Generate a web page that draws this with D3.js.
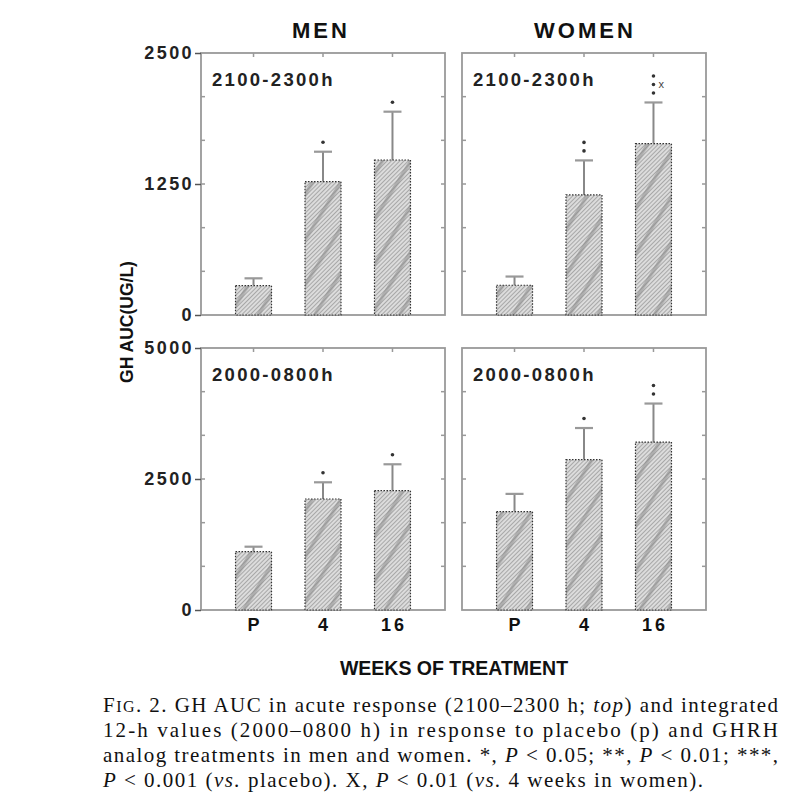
<!DOCTYPE html>
<html>
<head>
<meta charset="utf-8">
<script src="https://cdn.jsdelivr.net/npm/d3@7"></script>
<style>
  html, body { margin: 0; padding: 0; background: #fff; }
  svg { display: block; }
</style>
</head>
<body>
<svg id="chart" width="800" height="800"></svg>
<script>
// ---------------- data ----------------
const categories = ["P", "4", "16"];
const columnTitles = ["MEN", "WOMEN"];
const rowTitles = ["2100-2300h", "2000-0800h"];
const yTicksTop = [0, 1250, 2500];
const yTicksBottom = [0, 2500, 5000];

// acute response 2100-2300h
const menAcute = [280, 1272, 1479];
const menAcuteSem = [70, 286, 461];
const menAcuteSig = [0, 1, 1];
const menAcuteX = [false, false, false];

const womenAcute = [284, 1146, 1635];
const womenAcuteSem = [83, 329, 393];
const womenAcuteSig = [0, 2, 3];
const womenAcuteX = [false, false, true];

// integrated 2000-0800h
const menTotal = [1113, 2118, 2277];
const menTotalSem = [95, 319, 504];
const menTotalSig = [0, 1, 1];
const menTotalX = [false, false, false];

const womenTotal = [1877, 2868, 3205];
const womenTotalSem = [339, 605, 735];
const womenTotalSig = [0, 1, 2];
const womenTotalX = [false, false, false];

const yTitle = "GH AUC(UG/L)";
const xTitle = "WEEKS OF TREATMENT";

// ---------------- layout ----------------
const svg = d3.select("#chart");
const W = 244, H = 262;
const colX = [201, 462];
const rowY = [53, 348];

const defs = svg.append("defs");
const fine = defs.append("pattern").attr("id", "fine")
  .attr("patternUnits", "userSpaceOnUse").attr("width", 3).attr("height", 3)
  .attr("patternTransform", "rotate(45)");
fine.append("rect").attr("width", 3).attr("height", 3).attr("fill", "#dcdcdc");
fine.append("line").attr("x1", 0.5).attr("x2", 0.5).attr("y1", 0).attr("y2", 3)
  .attr("stroke", "#a8a8a8").attr("stroke-width", 1);
const band = defs.append("pattern").attr("id", "band")
  .attr("patternUnits", "userSpaceOnUse").attr("width", 24).attr("height", 10)
  .attr("patternTransform", "rotate(32)");
band.append("rect").attr("x", 0).attr("width", 3.5).attr("height", 10)
  .attr("fill", "#8a8a8a").attr("opacity", 0.55);

const panels = [
  {c: 0, r: 0, v: menAcute, e: menAcuteSem, s: menAcuteSig, x: menAcuteX, ticks: yTicksTop},
  {c: 1, r: 0, v: womenAcute, e: womenAcuteSem, s: womenAcuteSig, x: womenAcuteX, ticks: yTicksTop},
  {c: 0, r: 1, v: menTotal, e: menTotalSem, s: menTotalSig, x: menTotalX, ticks: yTicksBottom},
  {c: 1, r: 1, v: womenTotal, e: womenTotalSem, s: womenTotalSig, x: womenTotalX, ticks: yTicksBottom}
];

const frameColor = "#999";

panels.forEach(p => {
  const x0 = colX[p.c], y0 = rowY[p.r];
  const max = p.ticks[p.ticks.length - 1];
  const x = d3.scaleBand().domain(categories).range([x0, x0 + W])
    .paddingInner(0.482).paddingOuter(0.497);
  const y = d3.scaleLinear().domain([0, max]).range([y0 + H, y0]);
  const g = svg.append("g");

  // frame
  g.append("rect").attr("x", x0).attr("y", y0).attr("width", W).attr("height", H)
    .attr("fill", "none").attr("stroke", frameColor).attr("stroke-width", 1.8);

  // minor ticks (6 intervals) inward on left and right
  const minor = d3.range(1, 6).map(i => max * i / 6);
  g.selectAll(".ml").data(minor).join("line")
    .attr("x1", x0).attr("x2", x0 + 4).attr("y1", d => y(d)).attr("y2", d => y(d))
    .attr("stroke", frameColor).attr("stroke-width", 1.5);
  g.selectAll(".mr").data(minor).join("line")
    .attr("x1", x0 + W).attr("x2", x0 + W - 4).attr("y1", d => y(d)).attr("y2", d => y(d))
    .attr("stroke", frameColor).attr("stroke-width", 1.5);
  // top ticks at category centers
  g.selectAll(".tt").data(categories).join("line")
    .attr("x1", d => x(d) + x.bandwidth() / 2).attr("x2", d => x(d) + x.bandwidth() / 2)
    .attr("y1", y0).attr("y2", y0 + 4)
    .attr("stroke", frameColor).attr("stroke-width", 1.5);

  // left axis with labels (only left column)
  if (p.c === 0) {
    const ax = d3.axisLeft(y).tickValues(p.ticks).tickFormat(d3.format("d"))
      .tickSize(6).tickPadding(3);
    const a = g.append("g").attr("transform", `translate(${x0},0)`).call(ax);
    a.select(".domain").remove();
    a.selectAll("line").attr("stroke", "#555").attr("stroke-width", 1.5);
    a.selectAll("text").attr("font-family", "Arial, 'Liberation Sans', sans-serif")
      .attr("font-weight", "bold").attr("font-size", 18).attr("letter-spacing", 2.4)
      .attr("fill", "#222").attr("dx", 2);
  }

  // bottom category labels (bottom row)
  if (p.r === 1) {
    g.selectAll(".xl").data(categories).join("text")
      .attr("x", d => x(d) + x.bandwidth() / 2 + 1.5).attr("y", y0 + H + 21)
      .attr("text-anchor", "middle")
      .attr("font-family", "Arial, 'Liberation Sans', sans-serif")
      .attr("font-weight", "bold").attr("font-size", 18).attr("letter-spacing", 3)
      .attr("fill", "#111").text(d => d);
  }

  // error bars
  const data = categories.map((k, i) => ({k, v: p.v[i], e: p.e[i], s: p.s[i], xm: p.x[i]}));
  const cx = d => x(d.k) + x.bandwidth() / 2;
  g.selectAll(".ev").data(data).join("line")
    .attr("x1", cx).attr("x2", cx).attr("y1", d => y(d.v)).attr("y2", d => y(d.v + d.e))
    .attr("stroke", "#888").attr("stroke-width", 2);
  g.selectAll(".ec").data(data).join("line")
    .attr("x1", d => cx(d) - 9).attr("x2", d => cx(d) + 9)
    .attr("y1", d => y(d.v + d.e)).attr("y2", d => y(d.v + d.e))
    .attr("stroke", "#999").attr("stroke-width", 2.2);

  // bars
  g.selectAll(".b1").data(data).join("rect")
    .attr("x", d => x(d.k)).attr("width", x.bandwidth())
    .attr("y", d => y(d.v)).attr("height", d => y(0) - y(d.v))
    .attr("fill", "url(#fine)");
  g.selectAll(".b2").data(data).join("rect")
    .attr("x", d => x(d.k)).attr("width", x.bandwidth())
    .attr("y", d => y(d.v)).attr("height", d => y(0) - y(d.v))
    .attr("fill", "url(#band)")
    .attr("stroke", "#333").attr("stroke-width", 1.2).attr("stroke-dasharray", "1.5,1.5");

  // significance marks
  data.forEach(d => {
    const top = y(d.v + d.e);
    for (let j = 0; j < d.s; j++) {
      g.append("circle").attr("cx", cx(d)).attr("cy", top - 9.5 - j * 8.5)
        .attr("r", 1.8).attr("fill", "#333");
    }
    if (d.xm) {
      g.append("text").attr("x", cx(d) + 5).attr("y", top - 9.5 - 8.5 + 4)
        .attr("font-family", "Arial, sans-serif").attr("font-size", 11)
        .attr("fill", "#444").text("x");
    }
  });

  // panel label
  g.append("text").attr("x", x0 + 11).attr("y", y0 + 33)
    .attr("font-family", "Arial, 'Liberation Sans', sans-serif")
    .attr("font-weight", "bold").attr("font-size", 18.5).attr("letter-spacing", 2.3)
    .attr("fill", "#222").text(rowTitles[p.r]);
});

// column titles
svg.selectAll(".ct").data(columnTitles).join("text")
  .attr("x", (d, i) => colX[i] + W / 2 - (i === 0 ? 2 : -1))
  .attr("y", 38).attr("text-anchor", "middle")
  .attr("font-family", "Arial, 'Liberation Sans', sans-serif")
  .attr("font-weight", "bold").attr("font-size", 22).attr("letter-spacing", 3)
  .attr("fill", "#111").text(d => d);

// y title
svg.append("text").attr("transform", "translate(133,322) rotate(-90)")
  .attr("text-anchor", "middle")
  .attr("font-family", "Arial, 'Liberation Sans', sans-serif")
  .attr("font-weight", "bold").attr("font-size", 17.5)
  .attr("fill", "#111").text(yTitle);

// x title
svg.append("text").attr("x", 454).attr("y", 675).attr("text-anchor", "middle")
  .attr("font-family", "Arial, 'Liberation Sans', sans-serif")
  .attr("font-weight", "bold").attr("font-size", 19.5)
  .attr("fill", "#111").text(xTitle);

// caption
const cap = svg.append("g").attr("font-family", "'Liberation Serif', 'Times New Roman', serif")
  .attr("font-size", 21).attr("fill", "#111");
function line(y, parts, len) {
  const t = cap.append("text").attr("x", 103).attr("y", y)
    .attr("textLength", len).attr("lengthAdjust", "spacing");
  parts.forEach(pt => {
    const s = t.append("tspan").text(pt.t);
    if (pt.i) s.attr("font-style", "italic");
    if (pt.sm) s.attr("font-size", 16);
  });
}
line(712, [{t: "F"}, {t: "IG", sm: true}, {t: ". 2.  GH AUC in acute response (2100–2300 h; "}, {t: "top", i: true}, {t: ") and integrated"}], 675);
line(737, [{t: "12-h values (2000–0800 h) in response to placebo (p) and GHRH"}], 675);
line(762, [{t: "analog treatments in men and women. *, "}, {t: "P", i: true}, {t: " < 0.05; **, "}, {t: "P", i: true}, {t: " < 0.01; ***,"}], 675);
line(787, [{t: "P", i: true}, {t: " < 0.001 ("}, {t: "vs.", i: true}, {t: " placebo). X, "}, {t: "P", i: true}, {t: " < 0.01 ("}, {t: "vs.", i: true}, {t: " 4 weeks in women)."}], 600);
</script>
</body>
</html>
